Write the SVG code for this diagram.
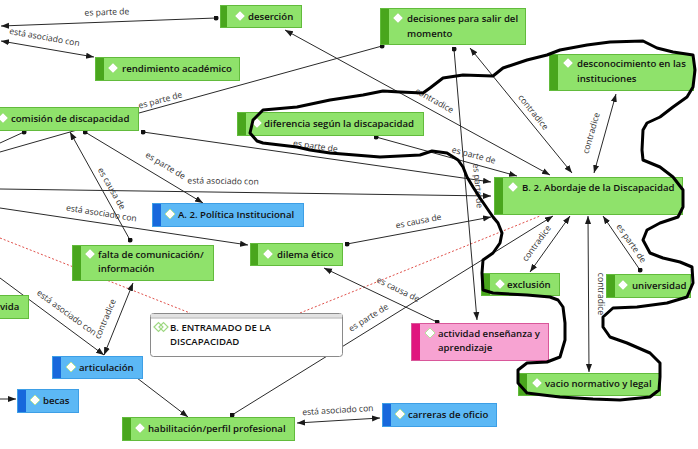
<svg xmlns="http://www.w3.org/2000/svg" width="698" height="449" viewBox="0 0 698 449">
<defs>
<marker id="ar" viewBox="0 0 10 10" refX="10" refY="5" markerWidth="8" markerHeight="8" markerUnits="userSpaceOnUse" orient="auto-start-reverse"><path d="M0,1.2 L10,5 L0,8.8 z" fill="#1a1a1a"/></marker>
<marker id="dot" viewBox="0 0 6 6" refX="3" refY="3" markerWidth="5" markerHeight="5" markerUnits="userSpaceOnUse"><circle cx="3" cy="3" r="3" fill="#111"/></marker>
</defs>
<style>
.c{stroke:#2a2a2a;stroke-width:1;fill:none}
.r{stroke:#e0504a;stroke-width:1;stroke-dasharray:2 2;fill:none}
.l{font-family:"Open Sans","Liberation Sans",sans-serif;font-size:8.6px;fill:#333;text-anchor:middle}
.t{font-family:"Open Sans","Liberation Sans",sans-serif;font-size:9.6px;font-weight:600;fill:#111}
.g{fill:#8fe26b;stroke:#62bb3c;stroke-width:1}
.gs{fill:#49a61d}
.b{fill:#5cb8f5;stroke:#3d9fe6;stroke-width:1}
.bs{fill:#1768dc}
.p{fill:#f7a3d2;stroke:#d9579a;stroke-width:1}
.ps{fill:#e0157e}
.d{fill:#fff;stroke:#b5e39c;stroke-width:1}
.fh{fill:none;stroke:#000;stroke-width:3;stroke-linejoin:round;stroke-linecap:round}
</style>
<rect width="698" height="449" fill="#fff"/>
<g id="connectors">
<line class="r" x1="0" y1="238" x2="190" y2="313"/>
<line class="r" x1="300" y1="313" x2="540" y2="216"/>
<line class="c" x1="216" y1="18" x2="1" y2="26" marker-start="url(#dot)" marker-end="url(#ar)"/>
<line class="c" x1="1" y1="41" x2="94" y2="57" marker-start="url(#ar)" marker-end="url(#ar)"/>
<line class="c" x1="382" y1="46" x2="139" y2="113" marker-start="url(#dot)"/>
<line class="c" x1="285" y1="30" x2="550" y2="175" marker-start="url(#ar)" marker-end="url(#ar)"/>
<line class="c" x1="470" y1="48" x2="572" y2="173" marker-start="url(#ar)" marker-end="url(#ar)"/>
<line class="c" x1="616" y1="94" x2="594" y2="173" marker-start="url(#ar)" marker-end="url(#ar)"/>
<line class="c" x1="143" y1="132" x2="491" y2="182" marker-start="url(#dot)" marker-end="url(#ar)"/>
<line class="c" x1="376" y1="137" x2="517" y2="176" marker-start="url(#dot)" marker-end="url(#ar)"/>
<line class="c" x1="454" y1="49" x2="477" y2="320" marker-start="url(#dot)" marker-end="url(#ar)"/>
<line class="c" x1="85" y1="132" x2="203" y2="203" marker-start="url(#dot)" marker-end="url(#ar)"/>
<line class="c" x1="0" y1="189" x2="491" y2="196" marker-end="url(#ar)"/>
<line class="c" x1="0" y1="208" x2="248" y2="245" marker-end="url(#ar)"/>
<line class="c" x1="130" y1="240" x2="70" y2="132" marker-start="url(#dot)" marker-end="url(#ar)"/>
<line class="c" x1="347" y1="244" x2="491" y2="217" marker-start="url(#dot)" marker-end="url(#ar)"/>
<line class="c" x1="437" y1="322" x2="324" y2="268" marker-start="url(#dot)" marker-end="url(#ar)"/>
<line class="c" x1="232" y1="415" x2="553" y2="216" marker-start="url(#dot)" marker-end="url(#ar)"/>
<line class="c" x1="530" y1="272" x2="570" y2="216" marker-start="url(#ar)" marker-end="url(#ar)"/>
<line class="c" x1="640" y1="270" x2="603" y2="216" marker-start="url(#dot)" marker-end="url(#ar)"/>
<line class="c" x1="588" y1="216" x2="589" y2="372" marker-start="url(#ar)" marker-end="url(#ar)"/>
<line class="c" x1="297" y1="423" x2="380" y2="418" marker-start="url(#ar)" marker-end="url(#ar)"/>
<line class="c" x1="104" y1="355" x2="133" y2="283" marker-start="url(#ar)" marker-end="url(#ar)"/>
<line class="c" x1="0" y1="278" x2="104" y2="355" marker-end="url(#ar)"/>
<line class="c" x1="137" y1="378" x2="188" y2="417" marker-end="url(#ar)"/>
<line class="c" x1="0" y1="399" x2="16" y2="399" marker-end="url(#ar)"/>
<line class="c" x1="24" y1="132" x2="0" y2="143" marker-start="url(#dot)"/>
<line class="c" x1="0" y1="152" x2="77" y2="130"/>
<text class="l" transform="translate(107,15) rotate(-2)">es parte de</text>
<text class="l" transform="translate(44,40) rotate(10)">está asociado con</text>
<text class="l" transform="translate(161,103) rotate(-15)">es parte de</text>
<text class="l" transform="translate(433,103) rotate(29)">contradice</text>
<text class="l" transform="translate(531,114) rotate(51)">contradice</text>
<text class="l" transform="translate(594,134) rotate(-74)">contradice</text>
<text class="l" transform="translate(315,149) rotate(8)">es parte de</text>
<text class="l" transform="translate(473,158) rotate(15)">es parte de</text>
<text class="l" transform="translate(475,186) rotate(85)">es parte de</text>
<text class="l" transform="translate(164,168) rotate(31)">es parte de</text>
<text class="l" transform="translate(223,184) rotate(1)">está asociado con</text>
<text class="l" transform="translate(101,216) rotate(9)">está asociado con</text>
<text class="l" transform="translate(109,190) rotate(60)">es causa de</text>
<text class="l" transform="translate(419,224) rotate(-11)">es causa de</text>
<text class="l" transform="translate(397,292) rotate(26)">es causa de</text>
<text class="l" transform="translate(370,320) rotate(-32)">es parte de</text>
<text class="l" transform="translate(539,245) rotate(-54)">contradice</text>
<text class="l" transform="translate(629,245) rotate(55)">es parte de</text>
<text class="l" transform="translate(598,294) rotate(90)">contradice</text>
<text class="l" transform="translate(338,413) rotate(-3.5)">está asociado con</text>
<text class="l" transform="translate(108,320) rotate(-67)">contradice</text>
<text class="l" transform="translate(65,315) rotate(36)">está asociado con</text>
</g>
<g id="n-desercion"><rect class="g" x="220.5" y="5.5" width="81" height="22"/><rect class="gs" x="221" y="6" width="6" height="21"/><polygon class="d" points="235,16 240,11 245,16 240,21"/><text class="t" x="248" y="20">deserción</text></g>
<g id="n-decisiones"><rect class="g" x="380.5" y="8.5" width="145" height="36"/><rect class="gs" x="381" y="9" width="8" height="35"/><polygon class="d" points="393,18 398,13 403,18 398,23"/><text class="t" x="407" y="22">decisiones para salir del</text><text class="t" x="407" y="37">momento</text></g>
<g id="n-rendimiento"><rect class="g" x="95.5" y="57.5" width="144" height="23"/><rect class="gs" x="96" y="58" width="8" height="22"/><polygon class="d" points="108,68 113,63 118,68 113,73"/><text class="t" x="122" y="72">rendimiento académico</text></g>
<g id="n-comision"><rect class="g" x="-5" y="107.5" width="143.5" height="23"/><polygon class="d" points="-2,118 3,113 8,118 3,123"/><text class="t" x="11" y="122">comisión de discapacidad</text></g>
<g id="n-diferencia"><rect class="g" x="237.5" y="112.5" width="186" height="23"/><rect class="gs" x="238" y="113" width="8" height="22"/><polygon class="d" points="252,123 257,118 262,123 257,128"/><text class="t" x="264" y="127">diferencia según la discapacidad</text></g>
<g id="n-desconocimiento"><rect class="g" x="549.5" y="54.5" width="144" height="36"/><rect class="gs" x="550" y="55" width="8" height="35"/><polygon class="d" points="563,63 568,58 573,63 568,68"/><text class="t" x="577" y="67">desconocimiento en las</text><text class="t" x="577" y="82">instituciones</text></g>
<g id="n-abordaje"><rect class="g" x="494.5" y="177.5" width="188" height="37"/><rect class="gs" x="495" y="178" width="8" height="36"/><polygon class="d" points="508,187 513,182 518,187 513,192"/><text class="t" x="522" y="191">B. 2. Abordaje de la Discapacidad</text></g>
<g id="n-politica"><rect class="b" x="152.5" y="203.5" width="151" height="23"/><rect class="bs" x="153" y="204" width="8" height="22"/><polygon class="d" points="165,214 170,209 175,214 170,219"/><text class="t" x="178" y="218">A. 2. Política Institucional</text></g>
<g id="n-falta"><rect class="g" x="72.5" y="245.5" width="141" height="35"/><rect class="gs" x="73" y="246" width="8" height="34"/><polygon class="d" points="85,254 90,249 95,254 90,259"/><text class="t" x="98" y="258">falta de comunicación/</text><text class="t" x="98" y="272">información</text></g>
<g id="n-dilema"><rect class="g" x="250.5" y="243.5" width="92" height="22"/><rect class="gs" x="251" y="244" width="7" height="21"/><polygon class="d" points="263,254 268,249 273,254 268,259"/><text class="t" x="277" y="258">dilema ético</text></g>
<g id="n-exclusion"><rect class="g" x="481.5" y="273.5" width="78" height="22"/><rect class="gs" x="482" y="274" width="8" height="21"/><polygon class="d" points="495,284 500,279 505,284 500,289"/><text class="t" x="507" y="288">exclusión</text></g>
<g id="n-universidad"><rect class="g" x="606.5" y="274.5" width="84" height="23"/><rect class="gs" x="607" y="275" width="8" height="22"/><polygon class="d" points="618,285 623,280 628,285 623,290"/><text class="t" x="632" y="289">universidad</text></g>
<g id="n-vida"><rect class="g" x="-5" y="295.5" width="33.5" height="23"/><text class="t" x="0" y="310">vida</text></g>
<g id="n-entramado"><rect x="150.5" y="313.5" width="192" height="43" rx="3" fill="#fff" stroke="#8a8a8a"/><rect x="151" y="314" width="191" height="3.5" fill="#e2e2e2"/><line x1="151" y1="318" x2="342" y2="318" stroke="#9a9a9a" stroke-width="0.8"/><polygon points="154,327 158.5,322.5 163,327 158.5,331.5" fill="none" stroke="#9fd883" stroke-width="1.2"/><polygon points="159,327 163.5,322.5 168,327 163.5,331.5" fill="none" stroke="#9fd883" stroke-width="1.2"/><text class="t" x="170" y="331">B. ENTRAMADO DE LA</text><text class="t" x="170" y="345">DISCAPACIDAD</text></g>
<g id="n-actividad"><rect class="p" x="411.5" y="323.5" width="137" height="37"/><rect class="ps" x="412" y="324" width="8" height="36"/><polygon class="d" points="425,333 430,328 435,333 430,338"/><text class="t" x="438" y="337">actividad enseñanza y</text><text class="t" x="438" y="351">aprendizaje</text></g>
<g id="n-articulacion"><rect class="b" x="52.5" y="356.5" width="90" height="22"/><rect class="bs" x="53" y="357" width="8" height="21"/><polygon class="d" points="66,367 71,362 76,367 71,372"/><text class="t" x="79" y="371">articulación</text></g>
<g id="n-becas"><rect class="b" x="17.5" y="389.5" width="61" height="23"/><rect class="bs" x="18" y="390" width="8" height="22"/><polygon class="d" points="30,400 35,395 40,400 35,405"/><text class="t" x="43" y="404">becas</text></g>
<g id="n-habilitacion"><rect class="g" x="122.5" y="417.5" width="172" height="23"/><rect class="gs" x="123" y="418" width="8" height="22"/><polygon class="d" points="135,428 140,423 145,428 140,433"/><text class="t" x="148" y="432">habilitación/perfil profesional</text></g>
<g id="n-carreras"><rect class="b" x="382.5" y="403.5" width="114" height="23"/><rect class="bs" x="383" y="404" width="8" height="22"/><polygon class="d" points="395,414 400,409 405,414 400,419"/><text class="t" x="408" y="418">carreras de oficio</text></g>
<g id="n-vacio"><rect class="g" x="518.5" y="373.5" width="142" height="22"/><rect class="gs" x="519" y="374" width="8" height="21"/><polygon class="d" points="532,383 537,378 542,383 537,388"/><text class="t" x="545" y="387">vacio normativo y legal</text></g>
<polyline class="fh" points="257,141 250,133 253,120 263,110 297,107 330,100 363,95 383,91 400,92 423,93 430,88 443,78 463,75 493,76 503,68 527,60 547,55 560,50 587,45 610,42 643,41 657,48 673,52 693,55 695,70 693,87 687,97 673,107 660,117 647,123 643,130 642,150 643,160 660,167 673,177 683,190 683,207 678,217 660,223 647,230 643,240 650,253 663,258 680,262 692,267 693,283 690,290 687,297 667,303 637,307 613,308 603,317 603,327 610,337 627,343 650,353 660,363 660,377 659,390 650,397 620,400 593,399 560,397 543,395 527,393 518,383 518,370 527,363 547,362 560,357 565,340 565,323 563,307 558,300 550,297 527,295 493,293 483,290 482,273 483,260 493,253 500,243 502,233 498,223 493,217 480,198 473,187 467,177 463,167 458,160 447,153 432,151 420,155 380,157 330,153 310,150 297,147 263,143 257,141"/>
</svg>
